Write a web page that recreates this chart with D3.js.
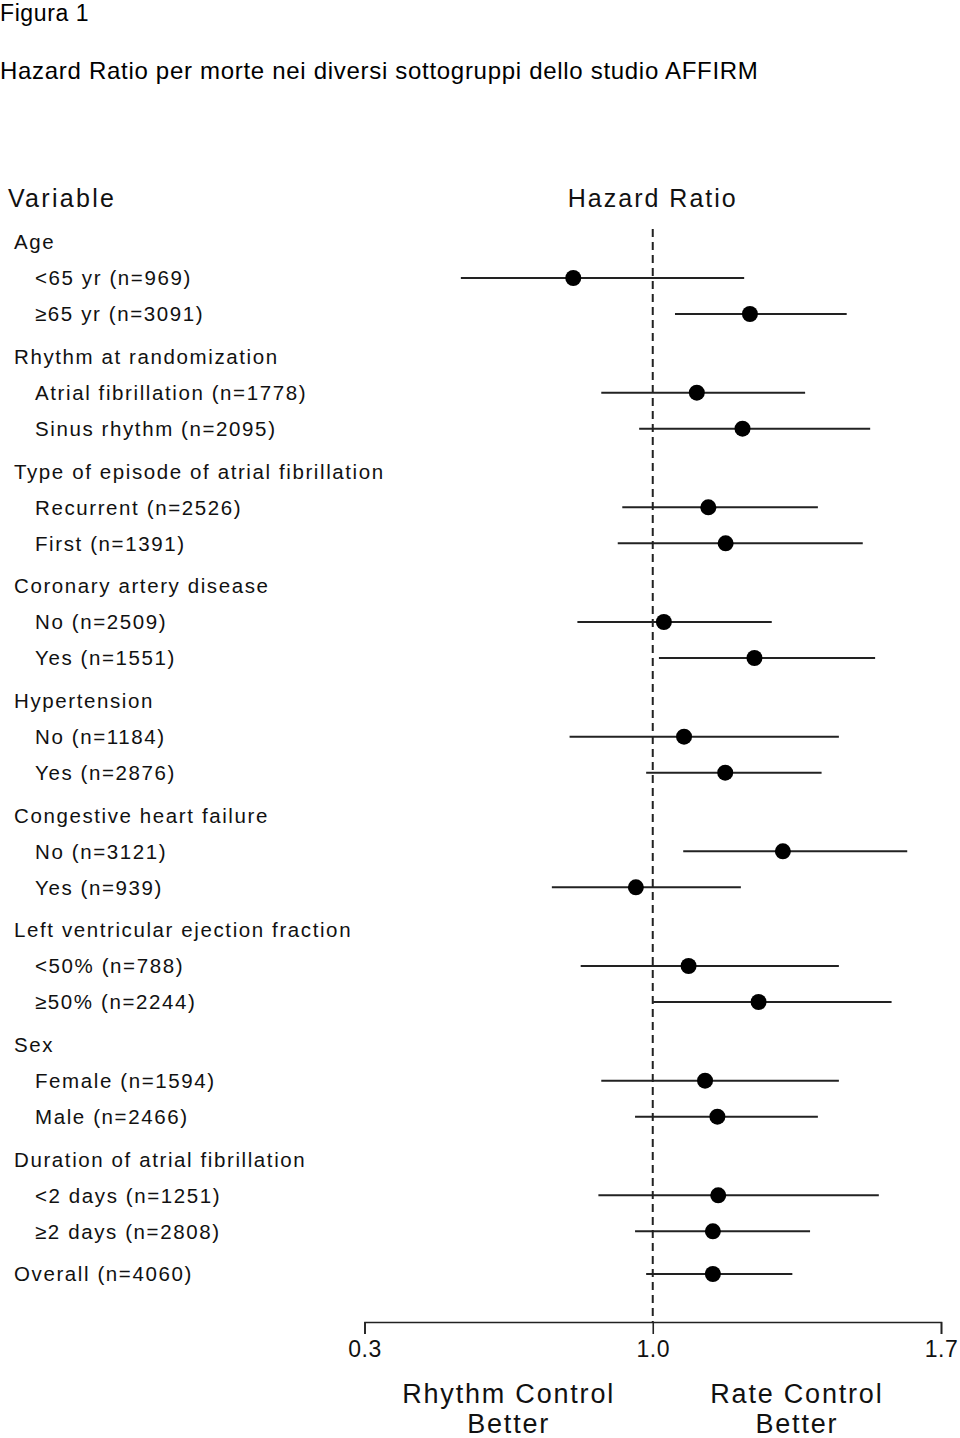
<!DOCTYPE html>
<html><head><meta charset="utf-8">
<script src="https://cdn.jsdelivr.net/npm/d3@7"></script>
<style>body{margin:0;background:#fff} svg{display:block}</style>
</head><body><svg id="c" width="960" height="1438"></svg>
<script>
// ---------------- data ----------------
const figureLabel = "Figura 1";
const figureTitle = "Hazard Ratio per morte nei diversi sottogruppi dello studio AFFIRM";
const columnHeaders = ["Variable", "Hazard Ratio"];
const groups = [
  "Age",
  "Rhythm at randomization",
  "Type of episode of atrial fibrillation",
  "Coronary artery disease",
  "Hypertension",
  "Congestive heart failure",
  "Left ventricular ejection fraction",
  "Sex",
  "Duration of atrial fibrillation"
];
const subgroups = [
  ["<65 yr (n=969)", "≥65 yr (n=3091)"],
  ["Atrial fibrillation (n=1778)", "Sinus rhythm (n=2095)"],
  ["Recurrent (n=2526)", "First (n=1391)"],
  ["No (n=2509)", "Yes (n=1551)"],
  ["No (n=1184)", "Yes (n=2876)"],
  ["No (n=3121)", "Yes (n=939)"],
  ["<50% (n=788)", "≥50% (n=2244)"],
  ["Female (n=1594)", "Male (n=2466)"],
  ["<2 days (n=1251)", "≥2 days (n=2808)"]
];
const hrPoint = [0.807, 1.236, 1.107, 1.218, 1.135, 1.177, 1.027, 1.247, 1.076, 1.176,
                 1.316, 0.959, 1.087, 1.257, 1.127, 1.157, 1.159, 1.146];
const ciLow   = [0.534, 1.054, 0.875, 0.967, 0.926, 0.915, 0.817, 1.015, 0.798, 0.984,
                 1.074, 0.755, 0.825, 1.001, 0.875, 0.957, 0.868, 0.957];
const ciHigh  = [1.222, 1.471, 1.370, 1.528, 1.401, 1.510, 1.289, 1.540, 1.452, 1.410,
                 1.618, 1.214, 1.452, 1.580, 1.452, 1.401, 1.549, 1.382];
const overallLabel = "Overall (n=4060)";
const overallHR = 1.146, overallLow = 0.984, overallHigh = 1.339;
const xTicks = [0.3, 1.0, 1.7];
const refValue = 1.0;
const favourLabels = [["Rhythm Control", "Better"], ["Rate Control", "Better"]];

// ---------------- layout ----------------
const svg = d3.select("#c");
const GAP = 0.185;
const rows = [];
let slot = 0, gaps = 0, k = 0;
groups.forEach((g, gi) => {
  if (gi > 0) gaps++;
  rows.push({label: g, header: true, pos: slot + gaps * GAP});
  slot++;
  subgroups[gi].forEach(s => {
    rows.push({label: s, header: false, pos: slot + gaps * GAP, hr: hrPoint[k], lo: ciLow[k], hi: ciHigh[k]});
    k++; slot++;
  });
});
gaps++;
rows.push({label: overallLabel, header: true, pos: slot + gaps * GAP, hr: overallHR, lo: overallLow, hi: overallHigh});

const y = d3.scaleLinear().domain([0, d3.max(rows, d => d.pos)]).range([242, 1274]);
const x = d3.scaleLinear().domain([xTicks[0], xTicks[xTicks.length - 1]]).range([364.5, 941]);

const chartFont = "'Liberation Sans', Arial, sans-serif";

// titles
svg.append("text").attr("x", 0).attr("y", 21).text(figureLabel)
  .style("font-family", chartFont).style("font-size", "23px").style("letter-spacing", "0.6px").attr("fill", "#000");
svg.append("text").attr("x", 0).attr("y", 79).text(figureTitle)
  .style("font-family", chartFont).style("font-size", "24px").style("letter-spacing", "0.7px").attr("fill", "#000");

// column headers
svg.append("text").attr("x", 8).attr("y", 207).text(columnHeaders[0])
  .style("font-family", chartFont).style("font-size", "25px").style("letter-spacing", "2.3px").attr("fill", "#111");
svg.append("text").attr("x", x(refValue)).attr("y", 207).attr("text-anchor", "middle").text(columnHeaders[1])
  .style("font-family", chartFont).style("font-size", "25px").style("letter-spacing", "2px").attr("fill", "#111");

// row labels
svg.append("g").selectAll("text").data(rows).join("text")
  .attr("x", d => d.header ? 14 : 35)
  .attr("y", d => y(d.pos))
  .attr("dy", "0.35em")
  .text(d => d.label)
  .style("font-family", chartFont).style("font-size", "20.5px").style("letter-spacing", "1.6px")
  .attr("fill", "#111");

// reference dashed line
const axisY = 1322;
svg.append("line")
  .attr("x1", x(refValue)).attr("x2", x(refValue))
  .attr("y1", 229).attr("y2", axisY)
  .attr("stroke", "#222").attr("stroke-width", 2).attr("stroke-dasharray", "8,5");

// CI lines and points
const est = rows.filter(d => d.hr !== undefined);
svg.append("g").selectAll("line").data(est).join("line")
  .attr("x1", d => x(d.lo)).attr("x2", d => x(d.hi))
  .attr("y1", d => y(d.pos)).attr("y2", d => y(d.pos))
  .attr("stroke", "#222").attr("stroke-width", 2);
svg.append("g").selectAll("circle").data(est).join("circle")
  .attr("cx", d => x(d.hr)).attr("cy", d => y(d.pos)).attr("r", 8)
  .attr("fill", "#000");

// axis
const axis = svg.append("g").attr("transform", `translate(0,${axisY})`)
  .call(d3.axisBottom(x).tickValues(xTicks).tickFormat(d3.format(".1f"))
        .tickSize(12).tickSizeOuter(12).tickPadding(7));
axis.select(".domain").attr("stroke", "#222").attr("stroke-width", 1.6);
axis.selectAll(".tick line").attr("stroke", "#222").attr("stroke-width", 1.6);
axis.selectAll(".tick text").style("font-family", chartFont).style("font-size", "23px")
  .style("letter-spacing", "0.5px").attr("fill", "#111");

// favour labels
const mids = [(xTicks[0] + refValue) / 2, (refValue + xTicks[2]) / 2];
favourLabels.forEach((lines, i) => {
  lines.forEach((t, j) => {
    svg.append("text").attr("x", x(mids[i])).attr("y", 1403 + j * 30)
      .attr("text-anchor", "middle").text(t)
      .style("font-family", chartFont).style("font-size", "27px").style("letter-spacing", "1.8px")
      .attr("fill", "#111");
  });
});
</script>
</body></html>
